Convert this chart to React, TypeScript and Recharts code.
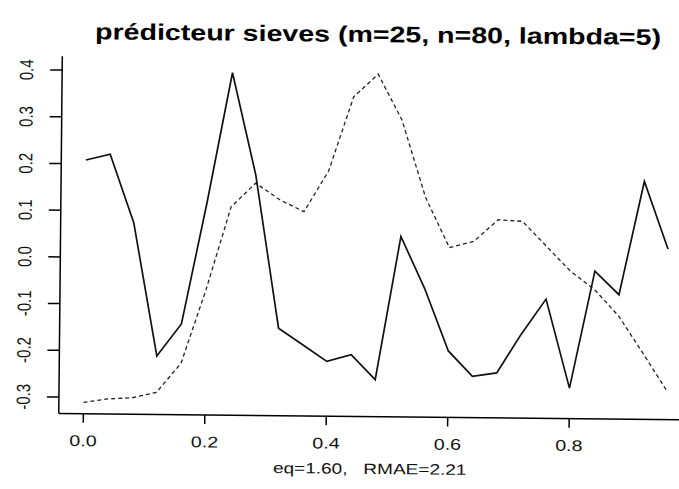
import React from 'react';
import { LineChart, Line, XAxis, YAxis } from 'recharts';

const xs = [0, 0.04, 0.08, 0.12, 0.16, 0.2, 0.24, 0.28, 0.32, 0.36, 0.4, 0.44, 0.48, 0.52, 0.56, 0.6, 0.64, 0.68, 0.72, 0.76, 0.8, 0.84, 0.88, 0.92, 0.96];
const sieves = [0.208, 0.221, 0.074, -0.21, -0.141, 0.118, 0.398, 0.18, -0.148, -0.183, -0.218, -0.203, -0.256, 0.051, -0.06, -0.193, -0.247, -0.239, -0.155, -0.08, -0.27, -0.019, -0.069, 0.174, 0.03];
const target = [-0.311, -0.303, -0.3, -0.288, -0.225, -0.067, 0.111, 0.162, 0.127, 0.102, 0.19, 0.349, 0.398, 0.3, 0.135, 0.028, 0.042, 0.089, 0.086, 0.033, -0.02, -0.059, -0.115, -0.193, -0.273];
const xTicks = [0, 0.2, 0.4, 0.6, 0.8];
const yTicks = [-0.3, -0.2, -0.1, 0, 0.1, 0.2, 0.3, 0.4];

const title = 'prédicteur sieves (m=25, n=80, lambda=5)';
const xLabel = 'eq=1.60,   RMAE=2.21';

const data = xs.map((x, i) => ({ x, sieves: sieves[i], target: target[i] }));

const font = '"Liberation Sans", Arial, sans-serif';
const stretch = 1.27;

function XTick({ x, payload }: any) {
  return (
    <text
      transform={`translate(${x},449) scale(${stretch},1)`}
      textAnchor="middle"
      fontSize={15.5}
      fontFamily={font}
      fill="#111"
    >
      {Number(payload.value).toFixed(1)}
    </text>
  );
}

function YTick({ y, payload }: any) {
  return (
    <text
      transform={`translate(31.5,${y}) scale(${stretch},1) rotate(-90)`}
      textAnchor="middle"
      fontSize={15}
      fontFamily={font}
      fill="#111"
    >
      {Number(payload.value).toFixed(1)}
    </text>
  );
}

export default function App() {
  const line = { stroke: '#000', strokeWidth: 1.5 };
  return (
    <div style={{ position: 'absolute', left: 0, top: 0, width: 679, height: 489, overflow: 'hidden', background: '#fff' }}>
      <div style={{ position: 'relative', width: 700, height: 489, transform: 'rotate(0.57deg)', transformOrigin: '370px 240px' }}>
        <LineChart width={700} height={489} data={data} margin={{ top: 59.3, right: 8.6, bottom: 0, left: 0 }}>
          <XAxis
            dataKey="x"
            type="number"
            domain={[-0.0405, 0.9984]}
            ticks={xTicks}
            allowDataOverflow
            height={72.3}
            tickSize={9}
            axisLine={line}
            tickLine={line}
            tick={<XTick />}
          />
          <XAxis
            xAxisId="top"
            dataKey="x"
            type="number"
            orientation="top"
            domain={[-0.0405, 0.9984]}
            height={0}
            tick={false}
            tickLine={false}
            axisLine={line}
          />
          <YAxis
            type="number"
            domain={[-0.3355, 0.4297]}
            ticks={yTicks}
            allowDataOverflow
            width={60.5}
            tickSize={12}
            axisLine={line}
            tickLine={line}
            tick={<YTick />}
          />
          <Line
            type="linear"
            dataKey="target"
            stroke="#222"
            strokeWidth={1.3}
            strokeDasharray="4 3"
            dot={false}
            isAnimationActive={false}
          />
          <Line
            type="linear"
            dataKey="sieves"
            stroke="#111"
            strokeWidth={1.7}
            dot={false}
            isAnimationActive={false}
          />
        </LineChart>
        <svg width={700} height={489} style={{ position: 'absolute', left: 0, top: 0, pointerEvents: 'none' }}>
          <text
            transform={`translate(376,42) scale(${stretch},1)`}
            textAnchor="middle"
            fontSize={22.5}
            fontWeight="bold"
            fontFamily={font}
            fill="#000"
          >
            {title}
          </text>
          <text
            transform={`translate(372,474) scale(${stretch},1)`}
            textAnchor="middle"
            fontSize={15}
            fontFamily={font}
            fill="#111"
            style={{ whiteSpace: 'pre' }}
          >
            {xLabel}
          </text>
        </svg>
      </div>
    </div>
  );
}
